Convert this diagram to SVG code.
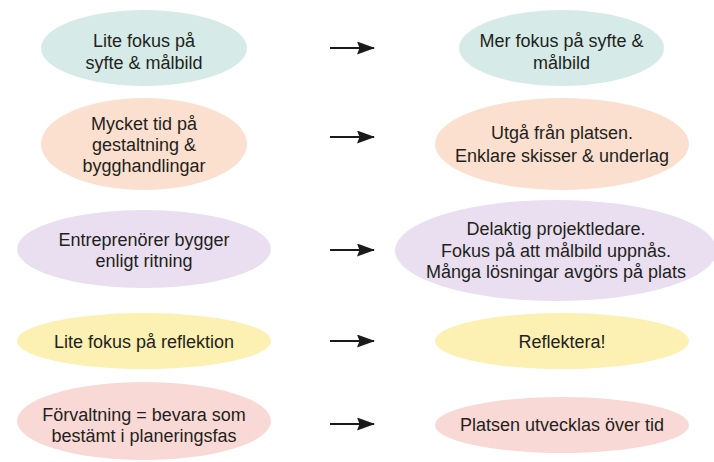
<svg xmlns="http://www.w3.org/2000/svg" width="714" height="462" viewBox="0 0 714 462">
<style>
text{font-family:"Liberation Sans",Arial,sans-serif;font-size:18px;fill:#231f20;text-anchor:middle}
.teal{fill:#d6ebe7}.peach{fill:#fbe0cf}.lav{fill:#e9dff0}.yel{fill:#fcf0b2}.pink{fill:#f9d9d6}
.conn line{stroke:#1a1a1a;stroke-width:2}
</style>
<defs>
<marker id="ah" viewBox="0 0 18 13" refX="17" refY="6.5" markerWidth="18" markerHeight="13" markerUnits="userSpaceOnUse" orient="auto">
<path d="M0,0 L18,6.5 L0,13 L2.5,6.5 Z" fill="#1a1a1a"/>
</marker>
</defs>
<rect width="714" height="462" fill="#fff"/>
<g id="l1"><ellipse class="teal" cx="144" cy="48" rx="103" ry="38"/><text x="144" y="46.5">Lite fokus på</text><text x="144" y="68.5">syfte &amp; målbild</text></g>
<g id="l2"><ellipse class="peach" cx="144" cy="144" rx="103" ry="46"/><text x="144" y="130">Mycket tid på</text><text x="144" y="151">gestaltning &amp;</text><text x="144" y="172">bygghandlingar</text></g>
<g id="l3"><ellipse class="lav" cx="144" cy="249" rx="127" ry="39"/><text x="144" y="246">Entreprenörer bygger</text><text x="144" y="267">enligt ritning</text></g>
<g id="l4"><ellipse class="yel" cx="144" cy="341" rx="127" ry="28"/><text x="144" y="347.5">Lite fokus på reflektion</text></g>
<g id="l5"><ellipse class="pink" cx="144" cy="421" rx="127" ry="39"/><text x="144" y="421">Förvaltning = bevara som</text><text x="144" y="442">bestämt i planeringsfas</text></g>
<g id="r1"><ellipse class="teal" cx="561.5" cy="48" rx="102.5" ry="38"/><text x="561.5" y="46.5">Mer fokus på syfte &amp;</text><text x="561.5" y="68.5">målbild</text></g>
<g id="r2"><ellipse class="peach" cx="562" cy="144" rx="127" ry="46"/><text x="562" y="139">Utgå från platsen.</text><text x="562" y="162">Enklare skisser &amp; underlag</text></g>
<g id="r3"><ellipse class="lav" cx="556" cy="250.5" rx="161" ry="50.5"/><text x="556" y="235">Delaktig projektledare.</text><text x="556" y="257">Fokus på att målbild uppnås.</text><text x="556" y="278">Många lösningar avgörs på plats</text></g>
<g id="r4"><ellipse class="yel" cx="562" cy="341" rx="127" ry="28"/><text x="562" y="348">Reflektera!</text></g>
<g id="r5"><ellipse class="pink" cx="562" cy="425" rx="127" ry="28"/><text x="562" y="430.5">Platsen utvecklas över tid</text></g>
<g class="conn" id="connectors">
<line x1="330" y1="48" x2="374" y2="48" marker-end="url(#ah)"/>
<line x1="330" y1="137" x2="374" y2="137" marker-end="url(#ah)"/>
<line x1="330" y1="250" x2="374" y2="250" marker-end="url(#ah)"/>
<line x1="330" y1="341" x2="374" y2="341" marker-end="url(#ah)"/>
<line x1="330" y1="424" x2="374" y2="424" marker-end="url(#ah)"/>
</g>
</svg>
